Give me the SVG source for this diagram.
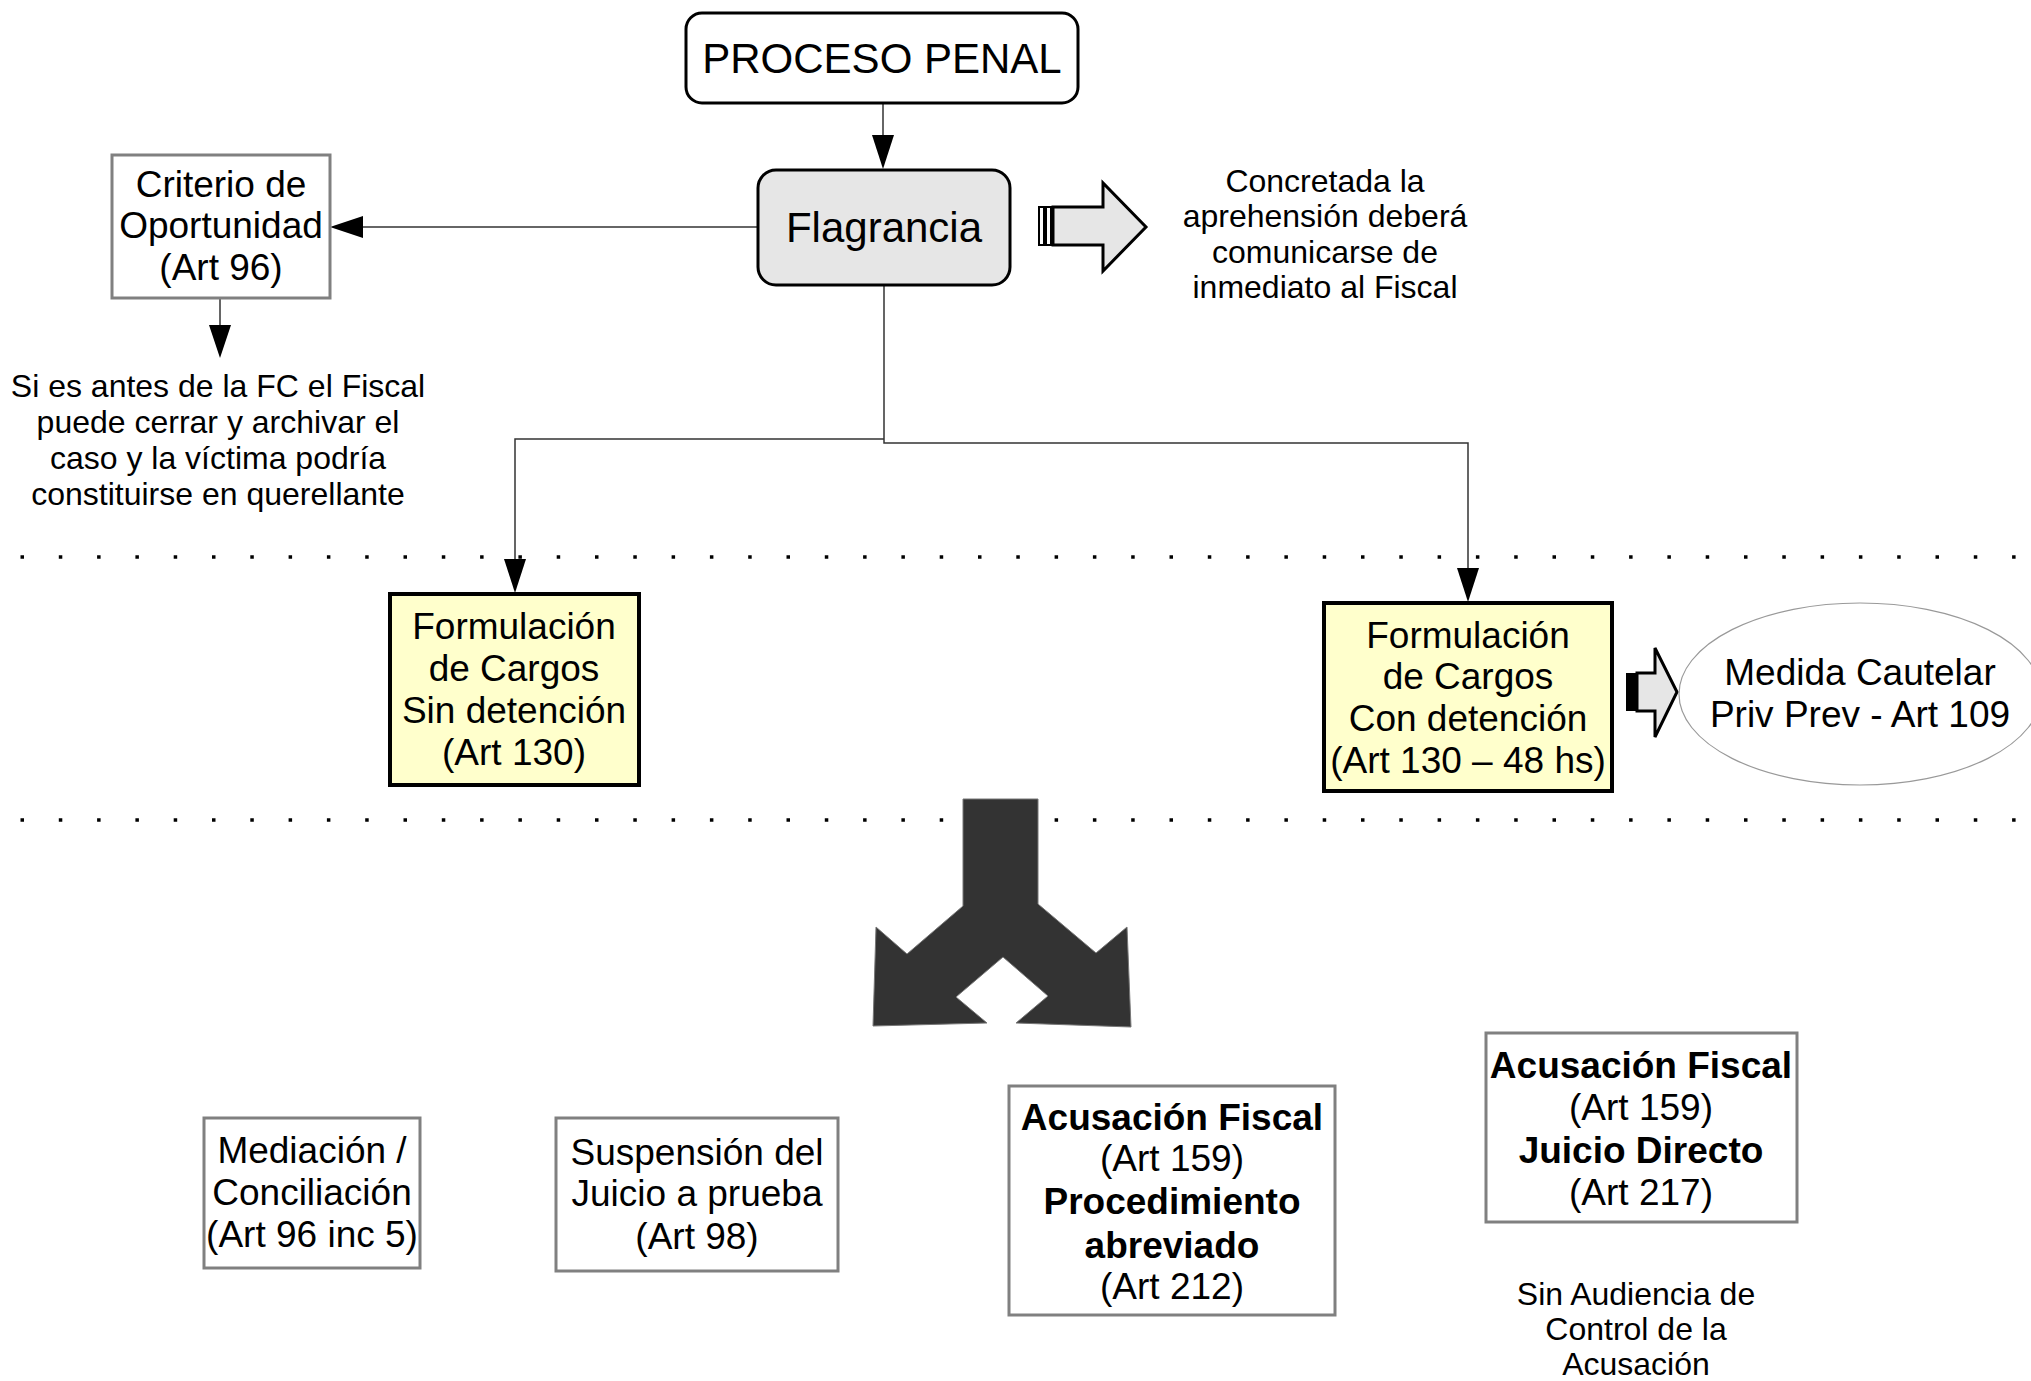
<svg xmlns="http://www.w3.org/2000/svg" width="2031" height="1381" viewBox="0 0 2031 1381">
<style>
text{font-family:"Liberation Sans",Arial,sans-serif;fill:#000;text-anchor:middle}
.t42{font-size:42px}
.t37{font-size:37px}
.t31{font-size:32px}
.b{font-weight:bold}
.round{fill:#fff;stroke:#000;stroke-width:3}
.gbox{fill:#fff;stroke:#808080;stroke-width:3}
.ybox{fill:#ffffcc;stroke:#000;stroke-width:4}
.conn{fill:none;stroke:#333;stroke-width:1.5}
.dots{stroke:#000;stroke-width:3.5;stroke-dasharray:3.5 34.8}
</style>
<defs>
<marker id="ah" markerWidth="22" markerHeight="34" refX="22" refY="11" orient="auto" markerUnits="userSpaceOnUse" viewBox="0 0 34 22">
<path d="M0,0 L34,11 L0,22 Z" fill="#000"/>
</marker>
</defs>
<rect width="2031" height="1381" fill="#fff"/>

<g id="separators">
<line class="dots" x1="20.5" y1="557" x2="2031" y2="557"/>
<line class="dots" x1="20.5" y1="820" x2="2031" y2="820"/>
</g>

<g id="connectors">
<path class="conn" d="M883,104 L883,135"/>
<path d="M872,135 L894,135 L883,169 Z" fill="#000"/>
<path class="conn" d="M757,227 L363,227"/>
<path d="M363,216 L363,238 L330,227 Z" fill="#000"/>
<path class="conn" d="M220,298 L220,325"/>
<path d="M209,325 L231,325 L220,358 Z" fill="#000"/>
<path class="conn" d="M884,286 L884,443 L1468,443 L1468,568"/>
<path d="M1457,568 L1479,568 L1468,602 Z" fill="#000"/>
<path class="conn" d="M884,439 L515,439 L515,559"/>
<path d="M504,559 L526,559 L515,593 Z" fill="#000"/>
</g>

<g id="proceso-penal">
<rect class="round" x="686" y="13" width="392" height="90" rx="16"/>
<text class="t42" x="882" y="73">PROCESO PENAL</text>
</g>

<g id="flagrancia">
<rect x="758" y="170" width="252" height="115" rx="18" fill="#e6e6e6" stroke="#000" stroke-width="3"/>
<text class="t42" x="884" y="242">Flagrancia</text>
</g>

<g id="arrow-aviso">
<rect x="1039" y="207" width="5" height="38" fill="#fff" stroke="#000" stroke-width="2"/>
<rect x="1046" y="207" width="5" height="38" fill="#fff" stroke="#000" stroke-width="2"/>
<path d="M1053,207 L1103,207 L1103,183 L1146,227 L1103,271 L1103,245 L1053,245 Z" fill="#e6e6e6" stroke="#000" stroke-width="3" stroke-linejoin="miter"/>
</g>

<g id="nota-aprehension">
<text class="t31" x="1325" y="192">Concretada la</text>
<text class="t31" x="1325" y="227">aprehensión deberá</text>
<text class="t31" x="1325" y="263">comunicarse de</text>
<text class="t31" x="1325" y="298">inmediato al Fiscal</text>
</g>

<g id="criterio-oportunidad">
<rect class="gbox" x="112" y="155" width="218" height="143"/>
<text class="t37" x="221" y="197">Criterio de</text>
<text class="t37" x="221" y="238">Oportunidad</text>
<text class="t37" x="221" y="280">(Art 96)</text>
</g>

<g id="nota-archivo">
<text class="t31" x="218" y="397">Si es antes de la FC el Fiscal</text>
<text class="t31" x="218" y="433">puede cerrar y archivar el</text>
<text class="t31" x="218" y="469">caso y la víctima podría</text>
<text class="t31" x="218" y="505">constituirse en querellante</text>
</g>

<g id="formulacion-sin-detencion">
<rect class="ybox" x="390" y="594" width="249" height="191"/>
<text class="t37" x="514" y="639">Formulación</text>
<text class="t37" x="514" y="681">de Cargos</text>
<text class="t37" x="514" y="723">Sin detención</text>
<text class="t37" x="514" y="765">(Art 130)</text>
</g>

<g id="formulacion-con-detencion">
<rect class="ybox" x="1324" y="603" width="288" height="188"/>
<text class="t37" x="1468" y="648">Formulación</text>
<text class="t37" x="1468" y="689">de Cargos</text>
<text class="t37" x="1468" y="731">Con detención</text>
<text class="t37" x="1468" y="773">(Art 130 – 48 hs)</text>
</g>

<g id="arrow-medida">
<rect x="1626" y="673" width="11" height="38" fill="#000"/>
<path d="M1637,673 L1655,673 L1655,648 L1677,692 L1655,737 L1655,711 L1637,711 Z" fill="#e6e6e6" stroke="#000" stroke-width="3"/>
</g>

<g id="medida-cautelar">
<ellipse cx="1860" cy="694" rx="181" ry="91" fill="#fff" stroke="#999" stroke-width="1.2"/>
<text class="t37" x="1860" y="685">Medida Cautelar</text>
<text class="t37" x="1860" y="727">Priv Prev - Art 109</text>
</g>

<g id="arrow-tres-vias">
<path d="M963,799 L1038,799 L1038,904 L1096,953 L1127,927 L1131,1027 L1016,1023 L1048,996 L1003,957 L956,997 L987,1023 L873,1026 L876,927 L907,954 L963,906 Z" fill="#333" stroke="#777" stroke-width="1"/>
</g>

<g id="mediacion">
<rect class="gbox" x="204" y="1118" width="216" height="150"/>
<text class="t37" x="312" y="1163">Mediación /</text>
<text class="t37" x="312" y="1205">Conciliación</text>
<text class="t37" x="312" y="1247">(Art 96 inc 5)</text>
</g>

<g id="suspension">
<rect class="gbox" x="556" y="1118" width="282" height="153"/>
<text class="t37" x="697" y="1165">Suspensión del</text>
<text class="t37" x="697" y="1206">Juicio a prueba</text>
<text class="t37" x="697" y="1249">(Art 98)</text>
</g>

<g id="acusacion-abreviado">
<rect class="gbox" x="1009" y="1086" width="326" height="229"/>
<text class="t37 b" x="1172" y="1130">Acusación Fiscal</text>
<text class="t37" x="1172" y="1171">(Art 159)</text>
<text class="t37 b" x="1172" y="1214">Procedimiento</text>
<text class="t37 b" x="1172" y="1258">abreviado</text>
<text class="t37" x="1172" y="1299">(Art 212)</text>
</g>

<g id="acusacion-directo">
<rect class="gbox" x="1486" y="1033" width="311" height="189"/>
<text class="t37 b" x="1641" y="1078">Acusación Fiscal</text>
<text class="t37" x="1641" y="1120">(Art 159)</text>
<text class="t37 b" x="1641" y="1163">Juicio Directo</text>
<text class="t37" x="1641" y="1205">(Art 217)</text>
</g>

<g id="nota-sin-audiencia">
<text class="t31" x="1636" y="1305">Sin Audiencia de</text>
<text class="t31" x="1636" y="1340">Control de la</text>
<text class="t31" x="1636" y="1375">Acusación</text>
</g>
</svg>
